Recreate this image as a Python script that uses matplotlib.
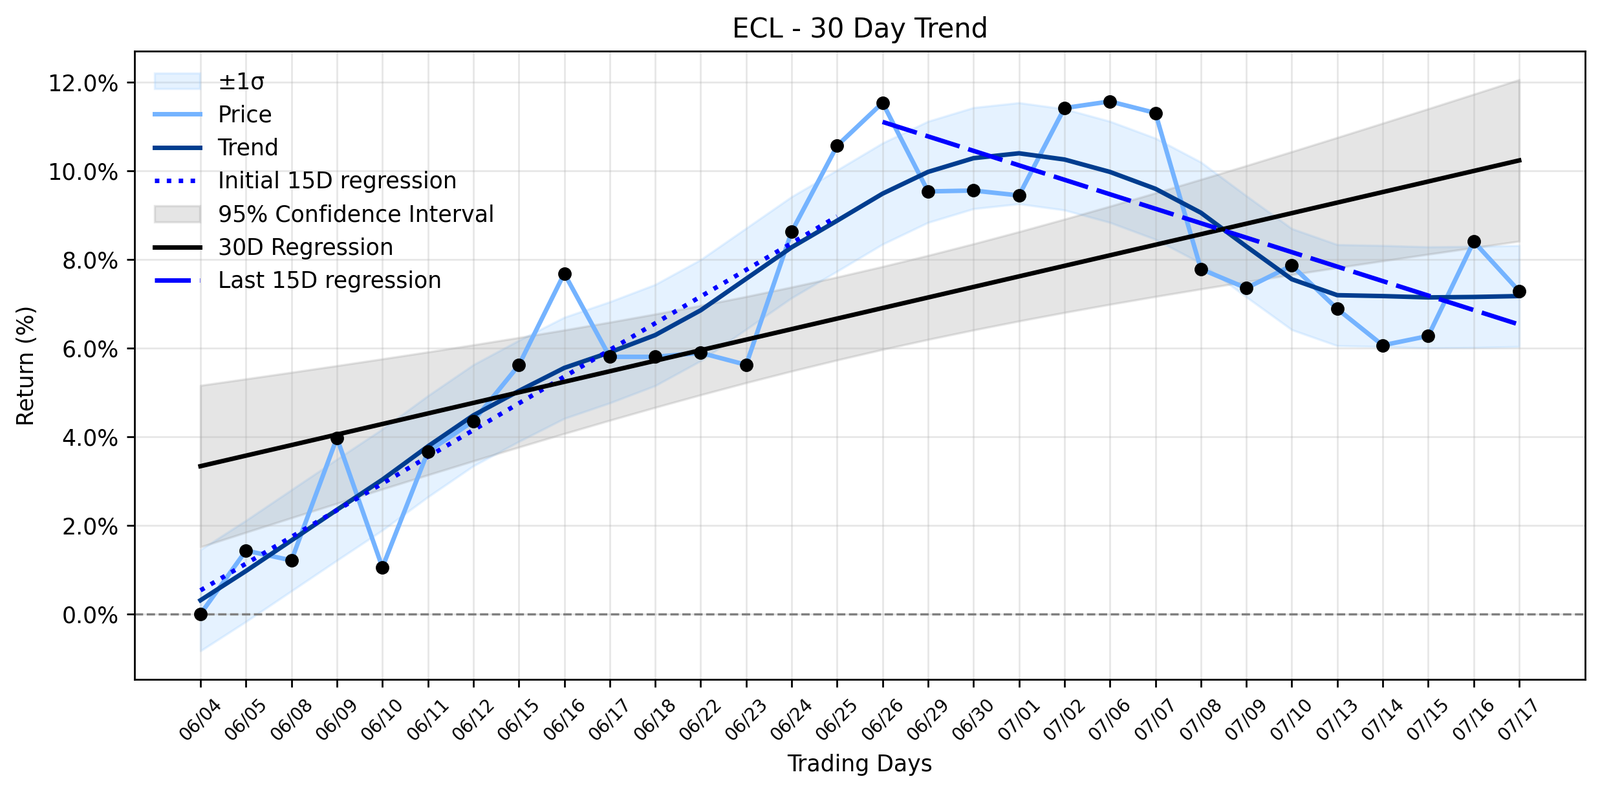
import numpy as np
import matplotlib
matplotlib.use("Agg")
import matplotlib.pyplot as plt
from matplotlib.ticker import PercentFormatter

# data (returns in %)
dates = ['06/04', '06/05', '06/08', '06/09', '06/10', '06/11', '06/12', '06/15', '06/16', '06/17',
         '06/18', '06/22', '06/23', '06/24', '06/25', '06/26', '06/29', '06/30', '07/01', '07/02',
         '07/06', '07/07', '07/08', '07/09', '07/10', '07/13', '07/14', '07/15', '07/16', '07/17']
price = [0.00, 1.43, 1.21, 3.97, 1.05, 3.66, 4.35, 5.61, 7.68, 5.80,
         5.80, 5.89, 5.62, 8.62, 10.56, 11.53, 9.53, 9.55, 9.44, 11.41,
         11.56, 11.30, 7.78, 7.35, 7.86, 6.88, 6.06, 6.27, 8.40, 7.28]
trend = [0.31, 0.97, 1.66, 2.35, 3.03, 3.78, 4.48, 5.03, 5.55, 5.90,
         6.29, 6.85, 7.56, 8.27, 8.87, 9.48, 9.97, 10.28, 10.39, 10.25,
         9.97, 9.59, 9.05, 8.29, 7.55, 7.19, 7.17, 7.14, 7.15, 7.17]
sigma = 1.14        # width of the +-1 sigma band
t_crit = 2.048      # t value, 28 dof, 95%

x = np.arange(len(dates))
price = np.array(price)
trend = np.array(trend)

# 30 day regression + confidence band of the fitted mean
slope, icpt = np.polyfit(x, price, 1)
fit30 = icpt + slope * x
resid = price - fit30
s = np.sqrt(np.sum(resid ** 2) / (len(x) - 2))
ci = t_crit * s * np.sqrt(1 / len(x) + (x - x.mean()) ** 2 / np.sum((x - x.mean()) ** 2))

# first / last 15 days
x1, x2 = x[:15], x[15:]
p1 = np.polyfit(x1, price[:15], 1)
p2 = np.polyfit(x2, price[15:], 1)

fig, ax = plt.subplots(figsize=(2474 / 250, 1224 / 250), dpi=250)
fig.subplots_adjust(left=0.0841, right=0.9907, top=0.9355, bottom=0.1422)

ax.fill_between(x, trend - sigma, trend + sigma, color='#99ccff', alpha=0.25, label='±1σ')
ax.plot(x, price, color='#74b3ff', lw=2, label='Price')
ax.plot(x, trend, color='#003d8f', lw=2, label='Trend')
ax.plot(x1, np.polyval(p1, x1), color='blue', lw=2, linestyle=':', label='Initial 15D regression')
ax.fill_between(x, fit30 - ci, fit30 + ci, color='gray', alpha=0.2, label='95% Confidence Interval')
ax.plot(x, fit30, color='black', lw=2, label='30D Regression')
ax.plot(x2, np.polyval(p2, x2), color='blue', lw=2, dashes=(8, 2), label='Last 15D regression')
ax.scatter(x, price, color='black', s=25, zorder=5)
ax.axhline(0, color='gray', linestyle='--', lw=1)

ax.set_xticks(x)
ax.set_xticklabels(dates, rotation=45, fontsize=8)
ax.yaxis.set_major_formatter(PercentFormatter(decimals=1))
ax.grid(True, alpha=0.3)
ax.set_title('ECL - 30 Day Trend')
ax.set_xlabel('Trading Days')
ax.set_ylabel('Return (%)')
ax.legend(loc='upper left', frameon=False)

plt.savefig('out.png', dpi=250)
